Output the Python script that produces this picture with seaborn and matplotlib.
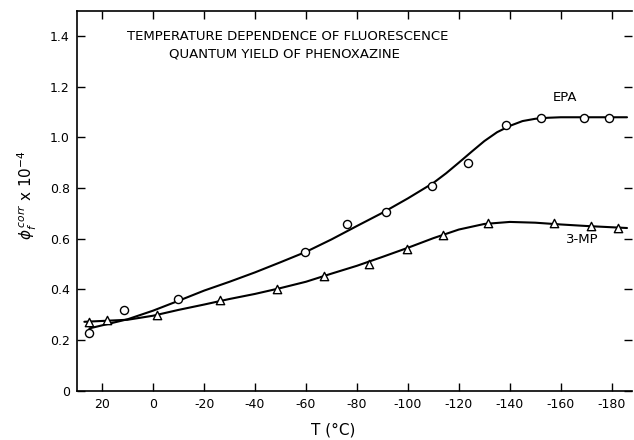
import matplotlib
matplotlib.use("Agg")
import matplotlib.pyplot as plt
import seaborn as sns

# measured points (T in degC, phi_f corr x 10^-4)
epa_T = [25.3, 11.3, -9.8, -59.5, -76.1, -91.5, -109.6, -123.5, -138.4, -152.2, -169.3, -179.1]
epa_phi = [0.227, 0.318, 0.361, 0.546, 0.658, 0.706, 0.809, 0.900, 1.047, 1.077, 1.077, 1.077]

mp_T = [25.3, 18.0, -1.6, -26.4, -48.6, -66.9, -84.6, -99.6, -113.7, -131.6, -157.4, -171.9, -182.6]
mp_phi = [0.272, 0.279, 0.299, 0.357, 0.400, 0.453, 0.500, 0.560, 0.613, 0.660, 0.660, 0.651, 0.643]

# hand-drawn smooth curves
epa_curve_T = [25, 10, 0, -10, -20, -30, -40, -50, -60, -70, -80, -90, -100, -110,
               -115, -120, -125, -130, -135, -140, -145, -150, -155, -160, -170, -180, -186]
epa_curve_phi = [0.246, 0.282, 0.316, 0.355, 0.395, 0.430, 0.467, 0.507, 0.548, 0.597,
                 0.650, 0.702, 0.759, 0.820, 0.858, 0.900, 0.943, 0.985, 1.020, 1.045,
                 1.064, 1.073, 1.077, 1.079, 1.079, 1.079, 1.079]

mp_curve_T = [27, 10, 0, -10, -20, -30, -40, -50, -60, -70, -80, -90, -100, -110,
              -120, -130, -140, -150, -160, -170, -180, -186]
mp_curve_phi = [0.272, 0.280, 0.296, 0.319, 0.340, 0.362, 0.382, 0.405, 0.430, 0.462,
                0.493, 0.528, 0.564, 0.602, 0.636, 0.658, 0.666, 0.663, 0.656, 0.650,
                0.645, 0.642]

x_ticks = [20, 0, -20, -40, -60, -80, -100, -120, -140, -160, -180]
x_labels = ["20", "0", "-20", "-40", "-60", "-80", "-100", "-120", "-140", "-160", "-180"]
y_ticks = [0, 0.2, 0.4, 0.6, 0.8, 1.0, 1.2, 1.4]
y_labels = ["0", "0.2", "0.4", "0.6", "0.8", "1.0", "1.2", "1.4"]

sns.set_style("ticks", {"text.color": "black", "axes.edgecolor": "black",
                        "xtick.color": "black", "ytick.color": "black",
                        "axes.labelcolor": "black"})
plt.rcParams["font.family"] = ["DejaVu Sans"]

fig = plt.figure(figsize=(6.34, 4.4), dpi=100)
ax = fig.add_axes([0.121, 0.112, 0.876, 0.864])

sns.lineplot(x=epa_curve_T, y=epa_curve_phi, color="black", linewidth=1.5, sort=False, ax=ax, zorder=2)
sns.lineplot(x=mp_curve_T, y=mp_curve_phi, color="black", linewidth=1.5, sort=False, ax=ax, zorder=2)
sns.scatterplot(x=epa_T, y=epa_phi, marker="o", s=34, facecolor="white", edgecolor="black",
                linewidth=1.0, ax=ax, zorder=3)
sns.scatterplot(x=mp_T, y=mp_phi, marker="^", s=36, facecolor="white", edgecolor="black",
                linewidth=1.0, ax=ax, zorder=3)

ax.set_xlim(30, -188)
ax.set_ylim(0, 1.5)
ax.set_xticks(x_ticks)
ax.set_xticklabels(x_labels, fontsize=9)
ax.set_yticks(y_ticks)
ax.set_yticklabels(y_labels, fontsize=9)
ax.tick_params(direction="in", length=6, width=1, top=True, right=True, pad=5)
ax.spines["right"].set_visible(False)
for s in ["left", "bottom", "top"]:
    ax.spines[s].set_linewidth(1.2)

ax.text(-53, 1.397, "TEMPERATURE DEPENDENCE OF FLUORESCENCE", ha="center", va="center", fontsize=9.5)
ax.text(-51.5, 1.327, "QUANTUM YIELD OF PHENOXAZINE", ha="center", va="center", fontsize=9.5)
ax.text(-161.7, 1.155, "EPA", ha="center", va="center", fontsize=9.5)
ax.text(-168.4, 0.595, "3-MP", ha="center", va="center", fontsize=9.5)

fig.text(333 / 634, 1 - 430 / 440, "T (°C)", ha="center", va="center", fontsize=11)
fig.text(27 / 634, 1 - 195 / 440, r"$\phi_f^{\,corr}$ x 10$^{-4}$", ha="center", va="center",
         rotation=90, fontsize=11)

fig.savefig("out.png", dpi=100)
